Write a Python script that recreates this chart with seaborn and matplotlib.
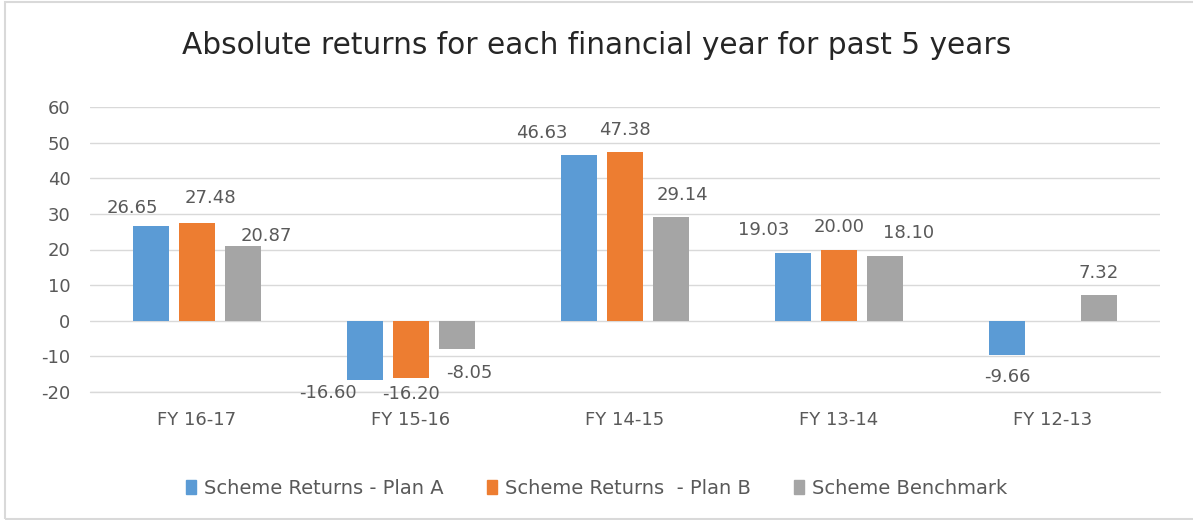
import pandas as pd
import numpy as np
import matplotlib
matplotlib.use("Agg")
import matplotlib.pyplot as plt
import seaborn as sns
from matplotlib.patches import Rectangle

# chart data
years = ["FY 16-17", "FY 15-16", "FY 14-15", "FY 13-14", "FY 12-13"]
plan_a = [26.65, -16.60, 46.63, 19.03, -9.66]
plan_b = [27.48, -16.20, 47.38, 20.00, np.nan]
benchmark = [20.87, -8.05, 29.14, 18.10, 7.32]
series_names = ["Scheme Returns - Plan A", "Scheme Returns  - Plan B", "Scheme Benchmark"]
colors = ["#5B9BD5", "#ED7D31", "#A5A5A5"]
y_ticks = [-20, -10, 0, 10, 20, 30, 40, 50, 60]

rows = []
for name, vals in zip(series_names, [plan_a, plan_b, benchmark]):
    for yr, v in zip(years, vals):
        rows.append({"Year": yr, "Series": name, "Value": v})
df = pd.DataFrame(rows)

sns.set_style("white")
plt.rcParams["font.family"] = ["DejaVu Sans"]
plt.rcParams["axes.unicode_minus"] = False
text_color = "#595959"
PX = 100 / 72  # pixels per point

fig = plt.figure(figsize=(11.93, 5.20), dpi=100)
ax = fig.add_axes([90 / 1193, 1 - 392 / 520, 1070 / 1193, 285 / 520])

sns.barplot(data=df, x="Year", y="Value", hue="Series", order=years,
            hue_order=series_names, palette=colors, width=0.645, gap=0.22,
            errorbar=None, ax=ax, legend=True, saturation=1, linewidth=0)

ax.set_ylim(-20, 60)
ax.set_xlim(-0.5, len(years) - 0.5)
ax.set_yticks(y_ticks)
ax.yaxis.grid(True, color="#d9d9d9", linewidth=1)
ax.axhline(-20, color="#d9d9d9", linewidth=1, clip_on=False, zorder=0)
ax.set_axisbelow(True)
for s in ax.spines.values():
    s.set_visible(False)
ax.set_xlabel("")
ax.set_ylabel("")
ax.tick_params(axis="both", length=0, labelsize=13, colors=text_color)
ax.tick_params(axis="x", pad=14)
ax.tick_params(axis="y", pad=14)

# data labels, with the offsets (px) excel used to keep them apart
nudge = {
    ("FY 16-17", 0): (-19, 18), ("FY 16-17", 1): (13, 25), ("FY 16-17", 2): (23, 10),
    ("FY 15-16", 0): (-37, 13), ("FY 15-16", 1): (0, 16), ("FY 15-16", 2): (12, 24),
    ("FY 14-15", 0): (-37, 22), ("FY 14-15", 2): (11, 22),
    ("FY 13-14", 0): (-29, 23), ("FY 13-14", 2): (24, 23),
}
for si, cont in enumerate(ax.containers):
    for bi, bar in enumerate(cont):
        h = bar.get_height()
        if np.isnan(h) or h == 0:
            continue
        cx = bar.get_x() + bar.get_width() / 2
        dx, dy = nudge.get((years[bi], si), (0, 22))
        dy = dy if h > 0 else -dy
        ax.annotate(f"{h:.2f}", (cx, h), xytext=(dx / PX, dy / PX), textcoords="offset points",
                    ha="center", va="center", fontsize=13, color=text_color)

ax.legend_.remove()
handles = [Rectangle((0, 0), 1, 1, color=c) for c in colors]
fig.legend(handles, series_names, loc="center", bbox_to_anchor=(0.5, 1 - 488 / 520),
           ncol=3, frameon=False, fontsize=14, labelcolor=text_color,
           handlelength=0.55, handleheight=0.7, handletextpad=0.4, columnspacing=2.2)

fig.text(0.5, 1 - 45 / 520, "Absolute returns for each financial year for past 5 years",
         ha="center", va="center", fontsize=21.3, color="#262626")

fig.patches.append(Rectangle((5 / 1193, 1 / 520), 1.1, 1 - 3 / 520, transform=fig.transFigure,
                             fill=False, edgecolor="#d9d9d9", linewidth=1.5))

fig.savefig("out.png", dpi=100)
